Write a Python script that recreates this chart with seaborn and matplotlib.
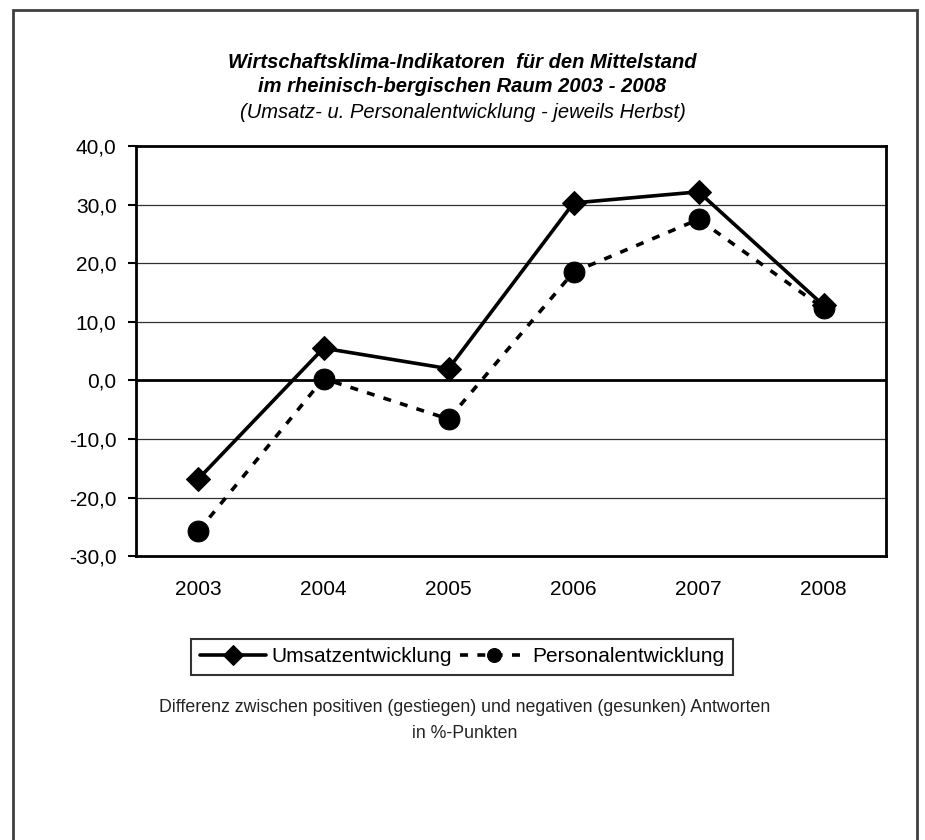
import matplotlib
matplotlib.use("Agg")
import matplotlib.pyplot as plt
import pandas as pd
import seaborn as sns
from matplotlib.patches import Rectangle

years = ["2003", "2004", "2005", "2006", "2007", "2008"]
umsatz = [-16.8, 5.5, 2.0, 30.3, 32.2, 12.8]
personal = [-25.7, 0.3, -6.6, 18.5, 27.5, 12.3]
yticks = [-30, -20, -10, 0, 10, 20, 30, 40]

df = pd.DataFrame({"Jahr": years, "Umsatzentwicklung": umsatz, "Personalentwicklung": personal})

sns.set_style("white")
plt.rcParams["font.family"] = ["Liberation Sans", "DejaVu Sans"]
plt.rcParams["text.color"] = "black"
plt.rcParams["xtick.color"] = "black"
plt.rcParams["ytick.color"] = "black"

fig = plt.figure(figsize=(9.25, 8.4), dpi=100)
ax = fig.add_axes([0.147, 0.338, 0.811, 0.488])

# Gitterlinien
for v in yticks[1:-1]:
    ax.axhline(v, color="#303030" if v != 0 else "black", lw=0.9 if v != 0 else 2.0, zorder=0)

sns.lineplot(data=df, x="Jahr", y="Umsatzentwicklung", ax=ax, color="black", lw=2.6,
             marker="D", markersize=12, markeredgecolor="black", sort=False,
             label="Umsatzentwicklung")
sns.lineplot(data=df, x="Jahr", y="Personalentwicklung", ax=ax, color="black", lw=2.6,
             marker="o", markersize=15, markeredgecolor="black", sort=False,
             linestyle=(0, (2.2, 2.6)), label="Personalentwicklung")

ax.set_xlim(-0.5, 5.5)
ax.set_ylim(-30, 40)
ax.set_yticks(yticks)
ax.set_yticklabels([f"{v:.1f}".replace(".", ",") for v in yticks], fontsize=15)
ax.tick_params(axis="x", length=0, labelsize=15, pad=17)
ax.tick_params(axis="y", length=6, width=1.5, direction="out", left=True, pad=8)
ax.set_xlabel("")
ax.set_ylabel("")
for s in ax.spines.values():
    s.set_color("black")
    s.set_linewidth(2)

leg = ax.legend(loc="center", bbox_to_anchor=(462 / 925, 1 - 657 / 840),
                bbox_transform=fig.transFigure, ncol=2, fontsize=15,
                frameon=True, fancybox=False, edgecolor="black", handlelength=3.2,
                handletextpad=0.25, columnspacing=0.4, borderpad=0.4, borderaxespad=0)
leg.get_frame().set_linewidth(1.5)
for h in leg.legend_handles:
    h.set_markersize(10)

fig.text(0.5, 1 - 62 / 840, "Wirtschaftsklima-Indikatoren  für den Mittelstand", ha="center", va="center",
         fontsize=14.5, fontweight="bold", fontstyle="italic")
fig.text(0.5, 1 - 87 / 840, "im rheinisch-bergischen Raum 2003 - 2008", ha="center", va="center",
         fontsize=14.5, fontweight="bold", fontstyle="italic")
fig.text(0.5, 1 - 112 / 840, "(Umsatz- u. Personalentwicklung - jeweils Herbst)", ha="center", va="center",
         fontsize=14.5, fontstyle="italic")
fig.text(465 / 925, 1 - 708 / 840, "Differenz zwischen positiven (gestiegen) und negativen (gesunken) Antworten",
         ha="center", va="center", fontsize=12.8, color="#222222")
fig.text(465 / 925, 1 - 733 / 840, "in %-Punkten", ha="center", va="center", fontsize=12.8, color="#222222")

fig.patches.append(Rectangle((13 / 925, -10 / 840), 904 / 925, 840 / 840, transform=fig.transFigure,
                             fill=False, edgecolor="#404040", lw=2))

fig.savefig("out.png", dpi=100)
